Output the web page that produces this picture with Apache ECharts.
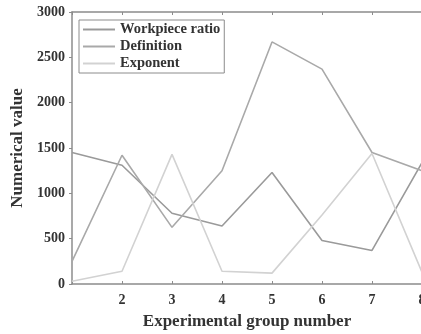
<!DOCTYPE html>
<html><head><meta charset="utf-8">
<script src="https://cdn.jsdelivr.net/npm/echarts@6/dist/echarts.min.js"></script>
<style>html,body{margin:0;padding:0;background:#fff}#c{width:421px;height:334px}</style>
</head><body><div id="c"></div>
<script>
const groups = [1, 2, 3, 4, 5, 6, 7, 8];
const workpieceRatio = [1450, 1310, 780, 640, 1230, 480, 370, 1340];
const definition = [250, 1420, 625, 1250, 2670, 2370, 1450, 1250];
const exponent = [30, 140, 1430, 140, 120, 760, 1440, 130];
const yTicks = [0, 500, 1000, 1500, 2000, 2500, 3000];
const seriesNames = ['Workpiece ratio', 'Definition', 'Exponent'];
const colors = ['#9a9a9a', '#a9a9a9', '#d2d2d2'];
const font = '"Liberation Serif", "Times New Roman", serif';

const pairs = arr => groups.map((g, i) => [g, arr[i]]);
const chart = echarts.init(document.getElementById('c'), null, {renderer: 'canvas'});
const axisLine = {show: true, lineStyle: {color: '#8c8c8c', width: 1.5}};
chart.setOption({
  animation: false,
  backgroundColor: '#fff',
  grid: {left: 72, top: 12, width: 350, bottom: 50, containLabel: false, outerBoundsMode: 'none'},
  legend: {
    show: true, left: 79, top: 20, orient: 'vertical',
    data: seriesNames, itemWidth: 32, itemHeight: 2, itemGap: 2,
    icon: 'rect', borderColor: '#8c8c8c', borderWidth: 1,
    padding: [2, 4, 2, 4],
    textStyle: {fontFamily: font, fontWeight: 'bold', fontSize: 14.5, color: '#333'}
  },
  xAxis: [{
    type: 'value', min: 1, max: 8, interval: 1,
    name: 'Experimental group number', nameLocation: 'middle', nameGap: 29,
    nameTextStyle: {fontFamily: font, fontWeight: 'bold', fontSize: 17, color: '#333'},
    axisLine: axisLine,
    axisTick: {show: true, inside: true, length: 3, lineStyle: {color: '#8c8c8c'}},
    axisLabel: {fontFamily: font, fontWeight: 'bold', fontSize: 14, color: '#333', margin: 9,
      showMaxLabel: true, formatter: v => (v === 1 ? '' : String(v))},
    splitLine: {show: false}
  }, {
    type: 'value', min: 1, max: 8, interval: 1, position: 'top',
    axisLine: axisLine,
    axisTick: {show: true, inside: true, length: 3, lineStyle: {color: '#8c8c8c'}},
    axisLabel: {show: false}, splitLine: {show: false}
  }],
  yAxis: {
    type: 'value', min: yTicks[0], max: yTicks[yTicks.length - 1], interval: 500,
    name: 'Numerical value', nameLocation: 'middle', nameGap: 40,
    nameTextStyle: {fontFamily: font, fontWeight: 'bold', fontSize: 17, color: '#333'},
    axisLine: axisLine,
    axisTick: {show: true, inside: false, length: 3, lineStyle: {color: '#8c8c8c'}},
    axisLabel: {fontFamily: font, fontWeight: 'bold', fontSize: 14, color: '#333', margin: 7,
      formatter: v => String(v)},
    splitLine: {show: false}
  },
  series: [workpieceRatio, definition, exponent].map((arr, i) => ({
    name: seriesNames[i], type: 'line', data: pairs(arr),
    showSymbol: false, symbol: 'none',
    lineStyle: {color: colors[i], width: 1.6}, itemStyle: {color: colors[i]}
  }))
});
</script></body></html>
